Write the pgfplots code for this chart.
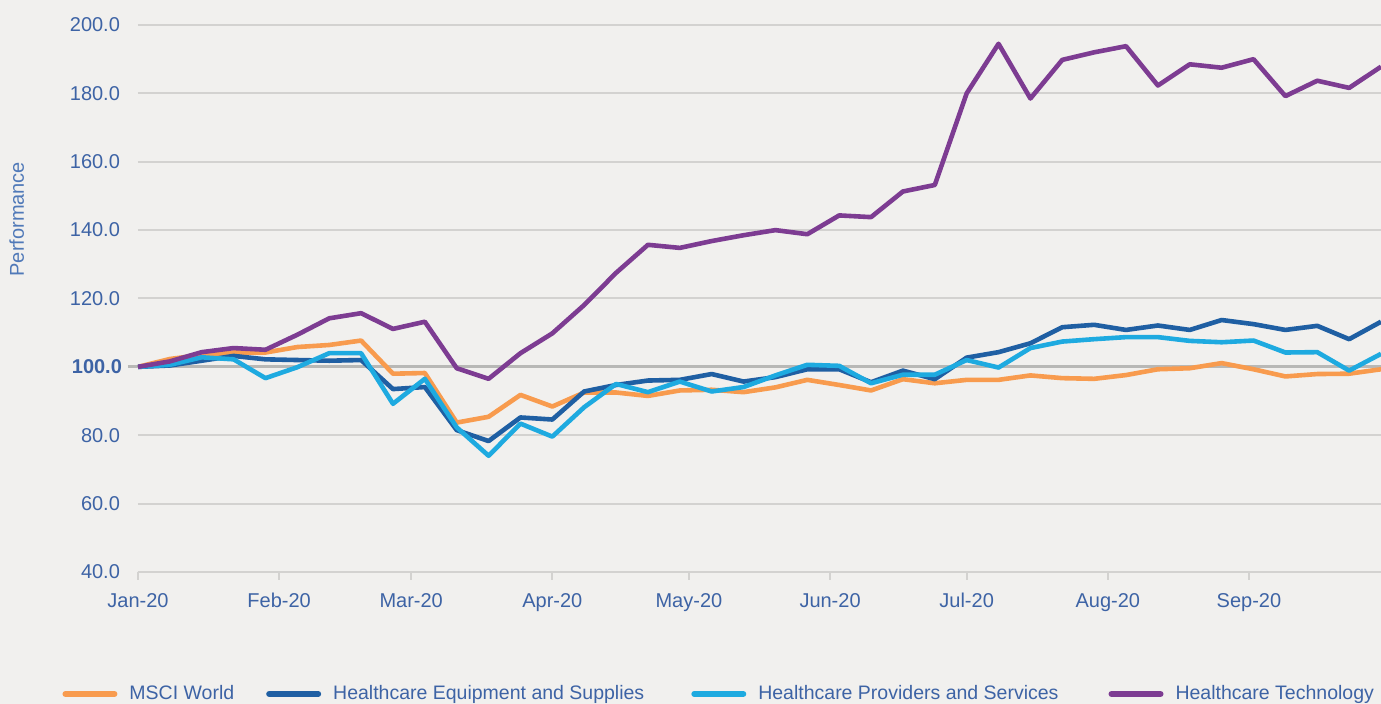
\documentclass[border=0pt]{standalone}
\usepackage{pgfplots}
\usepackage{pgfplotstable}
\pgfplotsset{compat=1.18}
\usepackage{fontspec}
\setmainfont{Liberation Sans}
\definecolor{bg}{HTML}{F1F0EE}
\definecolor{cMSCI}{HTML}{F89B4E}
\definecolor{cEquip}{HTML}{1F5FA3}
\definecolor{cProv}{HTML}{1EAAE0}
\definecolor{cTech}{HTML}{7D3C92}
\definecolor{txt}{HTML}{3D63A5}
\definecolor{ylab}{HTML}{5079B8}
\definecolor{gridc}{HTML}{D3D2D0}
\definecolor{hundred}{HTML}{B8B8B6}

\pgfplotstableread{
day msci equip prov tech
0 100 100 100 100
7 102.3 100.4 100.6 101.6
14 103.5 101.8 102.8 104.3
21 104.2 103.2 102.2 105.5
28 104.2 102.2 96.7 105.0
35 105.8 102.0 99.9 109.4
42 106.4 101.8 104.0 114.2
49 107.7 102.0 104.0 115.7
56 98.0 93.5 89.2 111.1
63 98.2 94.1 96.5 113.2
70 83.7 81.5 82.3 99.6
77 85.4 78.3 74.0 96.5
84 91.8 85.2 83.4 104.0
91 88.4 84.6 79.6 109.8
98 92.5 92.8 88.2 118.1
105 92.5 94.7 95.0 127.5
112 91.5 96.0 92.6 135.7
119 93.1 96.2 95.7 134.8
126 93.3 97.9 92.8 136.8
133 92.6 95.7 94.1 138.5
140 94.0 97.0 97.5 140.0
147 96.2 99.3 100.6 138.8
154 94.7 99.3 100.3 144.3
161 93.1 95.5 95.2 143.8
168 96.4 98.9 97.7 151.3
175 95.2 96.4 97.7 153.2
182 96.2 102.7 102.0 180.0
189 96.2 104.3 99.8 194.5
196 97.5 106.9 105.5 178.5
203 96.7 111.6 107.4 189.8
210 96.5 112.3 108.1 192.0
217 97.6 110.8 108.7 193.8
224 99.3 112.1 108.7 182.3
231 99.6 110.8 107.6 188.5
238 101.1 113.7 107.2 187.5
245 99.3 112.5 107.7 190.0
252 97.2 110.8 104.2 179.2
259 97.9 112.0 104.3 183.7
266 98.0 108.1 98.9 181.6
273 99.3 113.2 103.8 187.8
}\perfdata

\begin{document}
\begin{tikzpicture}
\fill[bg] (-69pt,-66pt) rectangle (621.5pt,286pt);
\begin{axis}[
  at={(0pt,0pt)}, anchor=south west,
  scale only axis,
  width=621.5pt, height=273.5pt,
  xmin=0, xmax=273,
  ymin=40, ymax=200,
  axis x line*=bottom,
  axis y line*=left,
  x axis line style={draw=gridc, line width=1pt, -},
  y axis line style={draw=none},
  xtick={0,31,60,91,121,152,182,213,244},
  xticklabels={Jan-20,Feb-20,Mar-20,Apr-20,May-20,Jun-20,Jul-20,Aug-20,Sep-20},
  xtick style={draw=gridc, line width=1pt},
  tick align=outside,
  major tick length=4pt,
  ytick={40,60,80,120,140,160,180,200},
  yticklabels={40.0,60.0,80.0,120.0,140.0,160.0,180.0,200.0},
  ytick style={draw=none},
  extra y ticks={100},
  extra y tick labels={\textbf{100.0}},
  extra y tick style={
    grid=major,
    major grid style={draw=hundred, line width=1.5pt},
    ytick style={draw=hundred, line width=1.5pt},
    major tick length=5pt,
    yticklabel style={xshift=2pt},
  },
  ymajorgrids,
  major grid style={draw=gridc, line width=1pt},
  tick label style={font=\fontsize{10}{12}\selectfont, text=txt},
  xticklabel style={yshift=-3pt},
  yticklabel style={xshift=-1.5pt},
  ylabel={Performance},
  ylabel style={font=\fontsize{10}{12}\selectfont, text=ylab, at={(axis description cs:-0.0975,0.645)}, anchor=center, rotate=0},
  legend columns=4,
  legend style={
    at={(axis description cs:-0.0611,-0.223)}, anchor=west,
    draw=none, fill=none, inner sep=0pt,
    font=\fontsize{9.75}{12}\selectfont, text=txt,
    /tikz/every odd column/.style={column sep=6pt},
    /tikz/column 2/.style={column sep=16pt},
    /tikz/column 4/.style={column sep=23.5pt},
    /tikz/column 6/.style={column sep=25pt},
    nodes={inner sep=0pt},
  },
  legend image code/.code={\draw[#1, line width=3pt, line cap=round] (1.5pt,0pt) -- (26pt,0pt);},
  every axis plot/.append style={line width=2.3pt, line join=round, no marks},
]
\addplot[cMSCI] table[x=day, y=msci] {\perfdata};
\addlegendentry{MSCI World}
\addplot[cEquip] table[x=day, y=equip] {\perfdata};
\addlegendentry{Healthcare Equipment and Supplies}
\addplot[cProv] table[x=day, y=prov] {\perfdata};
\addlegendentry{Healthcare Providers and Services}
\addplot[cTech] table[x=day, y=tech] {\perfdata};
\addlegendentry{Healthcare Technology}
\end{axis}
\pgfresetboundingbox
\useasboundingbox (-69pt,-66pt) rectangle (621.5pt,286pt);
\end{tikzpicture}
\end{document}
